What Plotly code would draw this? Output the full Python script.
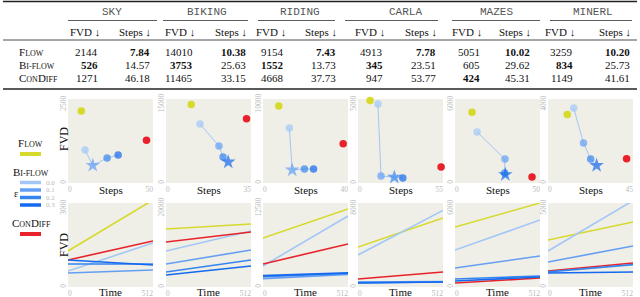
import plotly.graph_objects as go

W, H = 640, 297

# ---------------- data ----------------
datasets = ["SKY", "BIKING", "RIDING", "CARLA", "MAZES", "MINERL"]
method_labels = [
    "F<span style='font-size:8px'>LOW</span>",
    "B<span style='font-size:8px'>I-FLOW</span>",
    "C<span style='font-size:8px'>ON</span>D<span style='font-size:8px'>IFF</span>",
]
flow_fvd = [2144, 14010, 9154, 4913, 5051, 3259]
flow_steps = [7.84, 10.38, 7.43, 7.78, 10.02, 10.20]
biflow_fvd = [526, 3753, 1552, 345, 605, 834]
biflow_steps = [14.57, 25.63, 13.73, 23.51, 29.62, 25.73]
condiff_fvd = [1271, 11465, 4668, 947, 424, 1149]
condiff_steps = [46.18, 33.15, 37.73, 53.77, 45.31, 41.61]

eps_levels = ["0.0", "0.1", "0.2", "0.3"]

# FVD vs steps (middle row)
scatter_xmax = [50, 35, 40, 55, 50, 45]
scatter_ymax = [2500, 15000, 10000, 5000, 6000, 4000]
sweep_steps = [
    [10.0, 14.57, 23.0, 29.5],
    [14.0, 21.8, 23.5, 25.63],
    [12.4, 13.73, 19.5, 23.8],
    [12.9, 14.9, 23.51, 29.0],
    [13.0, 29.4, 29.2, 29.62],
    [13.6, 18.8, 22.6, 25.73],
]
sweep_fvd = [
    [982, 526, 744, 833],
    [10536, 6607, 4640, 3753],
    [6550, 1552, 1670, 1670],
    [4700, 420, 345, 300],
    [3640, 1710, 720, 605],
    [3570, 1900, 1140, 834],
]
best_eps_index = [1, 3, 1, 2, 3, 3]

# FVD vs time (bottom row)
time_pts = [0, 512]
time_ymax = [3000, 20000, 12500, 8000, 6000, 5000]
flow_time = [[1286, 3107], [13810, 15000], [7292, 11607], [3810, 6570], [4286, 6000], [2798, 3869]]
condiff_time = [[964, 1643], [10714, 13095], [3423, 6399], [762, 1430], [286, 643], [952, 1429]]
biflow_e00_time = [[571, 1571], [8571, 13333], [3125, 10565], [3048, 7290], [2643, 4786], [2143, 5140]]
biflow_e01_time = [[500, 607], [5476, 8810], [1250, 1850], [476, 520], [1357, 2214], [1488, 2440]]
biflow_e02_time = [[821, 821], [3571, 6429], [1550, 2000], [420, 476], [571, 786], [900, 1330]]
biflow_e03_time = [[964, 786], [2857, 5000], [1700, 2100], [381, 476], [430, 714], [833, 893]]

# ---------------- style ----------------
SERIF = "Liberation Serif"
MONO = "Liberation Mono"
C_FLOW = "#d6da2b"
C_COND = "#e8222a"
C_EPS = ["#a2c7f7", "#649ff3", "#3585f1", "#1469ee"]
BG = "#efeee7"
TICK_C = "#b9b9b9"


def px(x):
    return x / W


def py(y):
    return 1 - y / H


fig = go.Figure()
annotations = []
shapes = []

# ---------------- table ----------------
fvd_right = [100, 195, 286, 385, 482, 575]
steps_right = [152, 248, 338, 438, 532, 632]
group_center = [112, 207, 300, 405, 496, 593]
group_span = [(68, 157), (163, 248), (258, 335), (345, 438), (452, 540), (550, 632)]
row_y = [52, 65, 78]

for y, w in [(1.5, 1.6), (40, 0.8), (89, 1.6)]:
    shapes.append(dict(type="line", xref="paper", yref="paper", x0=px(3), x1=px(637),
                       y0=py(y), y1=py(y), line=dict(color="#222", width=w)))

for i, name in enumerate(datasets):
    annotations.append(dict(x=px(group_center[i]), y=py(12), text=name, showarrow=False,
                            xref="paper", yref="paper", xanchor="center", yanchor="middle",
                            font=dict(family=MONO, size=11, color="#555")))
    a, b = group_span[i]
    shapes.append(dict(type="line", xref="paper", yref="paper", x0=px(a), x1=px(b),
                       y0=py(20.5), y1=py(20.5), line=dict(color="#333", width=0.8)))
    annotations.append(dict(x=px(fvd_right[i] + 2), y=py(31.5), text="FVD ↓", showarrow=False,
                            xref="paper", yref="paper", xanchor="right", yanchor="middle",
                            font=dict(family=SERIF, size=11, color="#111")))
    annotations.append(dict(x=px(steps_right[i] + 1), y=py(31.5), text="Steps ↓", showarrow=False,
                            xref="paper", yref="paper", xanchor="right", yanchor="middle",
                            font=dict(family=SERIF, size=11, color="#111")))

fvd_rows = [flow_fvd, biflow_fvd, condiff_fvd]
steps_rows = [flow_steps, biflow_steps, condiff_steps]
for r in range(3):
    annotations.append(dict(x=px(17), y=py(row_y[r]), text=method_labels[r], showarrow=False,
                            xref="paper", yref="paper", xanchor="left", yanchor="middle",
                            font=dict(family=SERIF, size=11, color="#111")))
    for i in range(6):
        fv = fvd_rows[r][i]
        best_f = fv == min(row[i] for row in fvd_rows)
        st = steps_rows[r][i]
        best_s = st == min(row[i] for row in steps_rows)
        tf = f"<b>{fv}</b>" if best_f else f"{fv}"
        ts = f"<b>{st:.2f}</b>" if best_s else f"{st:.2f}"
        annotations.append(dict(x=px(fvd_right[i]), y=py(row_y[r]), text=tf, showarrow=False,
                                xref="paper", yref="paper", xanchor="right", yanchor="middle",
                                font=dict(family=SERIF, size=11, color="#111")))
        annotations.append(dict(x=px(steps_right[i]), y=py(row_y[r]), text=ts, showarrow=False,
                                xref="paper", yref="paper", xanchor="right", yanchor="middle",
                                font=dict(family=SERIF, size=11, color="#111")))

# ---------------- panels ----------------
panel_left = [68, 166, 263, 358, 455, 548]
panel_w = 85
rows_px = [(99, 183), (203, 287)]
layout_axes = {}
TF = dict(family=SERIF, size=7.5, color=TICK_C)
common = dict(showgrid=False, zeroline=False, showline=False, ticks="", ticklen=0,
              fixedrange=True, automargin=False, tickmode="array", tickfont=TF)


def names(k):
    return ("xaxis" if k == 1 else f"xaxis{k}", "yaxis" if k == 1 else f"yaxis{k}",
            "x" if k == 1 else f"x{k}", "y" if k == 1 else f"y{k}")


for r in range(2):
    top, bot = rows_px[r]
    for i in range(6):
        k = r * 6 + i + 1
        xa, ya, xn, yn = names(k)
        xa2, ya2, xn2, yn2 = names(12 + k)
        xmax = scatter_xmax[i] if r == 0 else time_pts[-1]
        ymax = scatter_ymax[i] if r == 0 else time_ymax[i]
        dom_x = [px(panel_left[i]), px(panel_left[i] + panel_w)]
        dom_y = [py(bot), py(top)]
        layout_axes[xa] = dict(domain=dom_x, anchor=yn, range=[0, xmax], tickvals=[0],
                               ticktext=["0"], ticklabelposition="outside right", tickangle=0,
                               **common)
        layout_axes[xa2] = dict(domain=dom_x, anchor=yn, overlaying=xn, range=[0, xmax],
                                tickvals=[xmax], ticktext=[str(xmax)], side="bottom",
                                ticklabelposition="outside left", tickangle=0, **common)
        layout_axes[ya] = dict(domain=dom_y, anchor=xn, range=[0, ymax], tickvals=[0],
                               ticktext=["0"], tickangle=-90, **common)
        layout_axes[ya2] = dict(domain=dom_y, anchor=xn, overlaying=yn, range=[0, ymax],
                                tickvals=[ymax], ticktext=[str(ymax)], side="left",
                                ticklabelposition="outside bottom", tickangle=-90, **common)
        # empty helper trace so the overlaid tick axes get drawn
        fig.add_trace(go.Scatter(x=[None], y=[None], mode="markers", xaxis=xn2, yaxis=yn2,
                                 showlegend=False, hoverinfo="skip"))
        annotations.append(dict(x=px(panel_left[i] + panel_w / 2), y=py(190 if r == 0 else 291.5),
                                text="Steps" if r == 0 else "Time", showarrow=False,
                                xref="paper", yref="paper", xanchor="center", yanchor="middle",
                                font=dict(family=SERIF, size=11, color="#111")))
        if r == 0:
            fig.add_trace(go.Scatter(x=[flow_steps[i]], y=[flow_fvd[i]], mode="markers",
                                     marker=dict(color=C_FLOW, size=7.5), xaxis=xn, yaxis=yn,
                                     showlegend=False, cliponaxis=False))
            fig.add_trace(go.Scatter(x=[condiff_steps[i]], y=[condiff_fvd[i]], mode="markers",
                                     marker=dict(color=C_COND, size=7.5), xaxis=xn, yaxis=yn,
                                     showlegend=False, cliponaxis=False))
            fig.add_trace(go.Scatter(x=sweep_steps[i], y=sweep_fvd[i], mode="lines",
                                     line=dict(color=C_EPS[0], width=1), xaxis=xn, yaxis=yn,
                                     showlegend=False, cliponaxis=False))
            syms = ["star" if j == best_eps_index[i] else "circle" for j in range(4)]
            sizes = [11 if j == best_eps_index[i] else 7.5 for j in range(4)]
            fig.add_trace(go.Scatter(x=sweep_steps[i], y=sweep_fvd[i], mode="markers",
                                     marker=dict(color=C_EPS, size=sizes, symbol=syms,
                                                 line=dict(width=0)),
                                     xaxis=xn, yaxis=yn, showlegend=False, cliponaxis=False))
        else:
            series = [(flow_time[i], C_FLOW), (biflow_e00_time[i], C_EPS[0]),
                      (condiff_time[i], C_COND), (biflow_e01_time[i], C_EPS[1]),
                      (biflow_e02_time[i], C_EPS[2]), (biflow_e03_time[i], C_EPS[3])]
            for vals, col in series:
                fig.add_trace(go.Scatter(x=time_pts, y=vals, mode="lines",
                                         line=dict(color=col, width=1.6), xaxis=xn, yaxis=yn,
                                         showlegend=False))

for yc in [139, 245]:
    annotations.append(dict(x=px(64), y=py(yc), text="FVD", showarrow=False, textangle=-90,
                            xref="paper", yref="paper", xanchor="center", yanchor="middle",
                            font=dict(family=SERIF, size=12, color="#111")))


# ---------------- left legend ----------------
def bar(y, col, w=4):
    shapes.append(dict(type="line", xref="paper", yref="paper", x0=px(20), x1=px(41),
                       y0=py(y), y1=py(y), line=dict(color=col, width=w)))


annotations.append(dict(x=px(30.5), y=py(143), text=method_labels[0], showarrow=False,
                        xref="paper", yref="paper", xanchor="center", yanchor="middle",
                        font=dict(family=SERIF, size=11, color="#111")))
bar(154, C_FLOW)
annotations.append(dict(x=px(30.5), y=py(172), text=method_labels[1], showarrow=False,
                        xref="paper", yref="paper", xanchor="center", yanchor="middle",
                        font=dict(family=SERIF, size=11, color="#111")))
for j, e in enumerate(eps_levels):
    yy = 182.5 + 7.5 * j
    bar(yy, C_EPS[j], 3.5)
    annotations.append(dict(x=px(43.5), y=py(yy), text=e, showarrow=False,
                            xref="paper", yref="paper", xanchor="left", yanchor="middle",
                            font=dict(family=SERIF, size=7, color=TICK_C)))
annotations.append(dict(x=px(16), y=py(193), text="ε", showarrow=False,
                        xref="paper", yref="paper", xanchor="center", yanchor="middle",
                        font=dict(family=SERIF, size=10, color="#111")))
annotations.append(dict(x=px(31), y=py(223), text=method_labels[2], showarrow=False,
                        xref="paper", yref="paper", xanchor="center", yanchor="middle",
                        font=dict(family=SERIF, size=11, color="#111")))
bar(234, C_COND)

fig.update_layout(
    template="none",
    width=W, height=H, margin=dict(l=0, r=0, t=0, b=0, autoexpand=False),
    paper_bgcolor="white", plot_bgcolor=BG,
    annotations=annotations, shapes=shapes, showlegend=False,
    **layout_axes,
)

fig.write_html("out.html", config={"displayModeBar": False},
               post_script="document.body.style.margin='0px';")
